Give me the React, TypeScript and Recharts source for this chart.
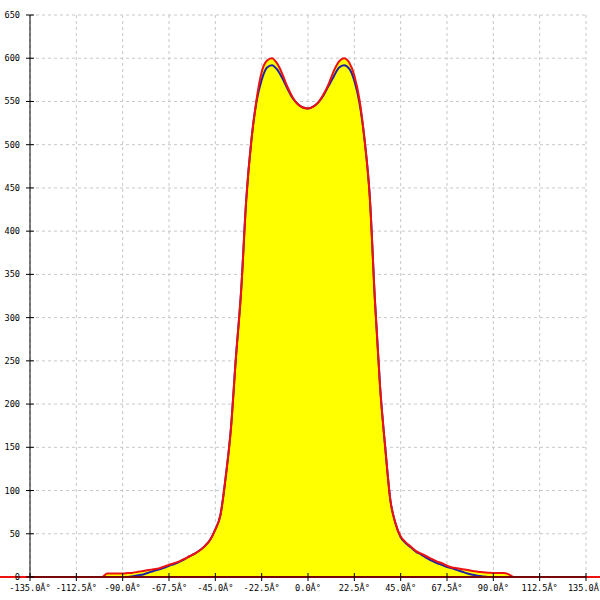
import React from 'react';
import { ComposedChart, Area, Line, XAxis, YAxis, CartesianGrid, ReferenceLine } from 'recharts';

const angles = [
  -135, -132.5, -130, -127.5, -125, -122.5, -120, -117.5, -115, -112.5, -110, -107.5, -105, -102.5, -100,
  -97.5, -95, -92.5, -90, -87.5, -85, -82.5, -80, -77.5, -75, -72.5, -70, -67.5, -65, -62.5, -60,
  -57.5, -55, -52.5, -50, -47.5, -45, -42.5, -40, -37.5, -35, -32.5, -30, -27.5, -25, -22.5, -20,
  -17.5, -15, -12.5, -10, -7.5, -5, -2.5, 0, 2.5, 5, 7.5, 10, 12.5, 15, 17.5, 20,
  22.5, 25, 27.5, 30, 32.5, 35, 37.5, 40, 42.5, 45, 47.5, 50, 52.5, 55, 57.5, 60,
  62.5, 65, 67.5, 70, 72.5, 75, 77.5, 80, 82.5, 85, 87.5, 90, 92.5, 95, 97.5, 100,
  102.5, 105, 107.5, 110, 112.5, 115, 117.5, 120, 122.5, 125, 127.5, 130, 132.5, 135,
];

const redValues = [
  0, 0, 0, 0, 0, 0, 0, 0, 0, 0, 0, 0, 0, 0, 0,
  4, 4, 4, 4, 4.5, 5, 6, 7, 8, 9, 10, 12, 14, 16, 18, 21,
  24, 27, 31, 36, 43, 55, 72, 115, 170, 254, 330, 436, 505, 552, 584, 597,
  600, 594, 582, 567, 555, 547, 543, 542, 544, 549, 558, 570, 585, 596, 600, 595,
  580, 552, 505, 440, 320, 220, 150, 89, 62, 47, 40, 35, 30, 27, 24, 21,
  18, 16, 13, 11, 10, 9, 8, 7, 6, 5.5, 5, 4.5, 4.5, 4.5, 3, 0,
  0, 0, 0, 0, 0, 0, 0, 0, 0, 0, 0, 0, 0, 0,
];

const blueValues = [
  0, 0, 0, 0, 0, 0, 0, 0, 0, 0, 0, 0, 0, 0, 0,
  0, 0, 0, 0, 0, 1, 2, 3, 5, 7, 8.5, 10.5, 13, 15, 17.5, 20.5,
  24, 27, 31, 36, 43, 55, 72, 115, 170, 254, 330, 436, 505, 550, 575, 589,
  592, 587, 577, 565, 554, 547, 543, 542, 544, 549, 557, 568, 579, 589, 592, 588,
  574, 548, 505, 440, 320, 220, 150, 89, 62, 46, 39, 34, 29, 26, 22, 19,
  16, 14, 11.5, 10, 8, 6, 4, 2.5, 1.5, 0.5, 0, 0, 0, 0, 0, 0,
  0, 0, 0, 0, 0, 0, 0, 0, 0, 0, 0, 0, 0, 0,
];

const xTicks = [-135, -112.5, -90, -67.5, -45, -22.5, 0, 22.5, 45, 67.5, 90, 112.5, 135];
const xTickLabels = ['-135.0Â°', '-112.5Â°', '-90.0Â°', '-67.5Â°', '-45.0Â°', '-22.5Â°', '0.0Â°', '22.5Â°', '45.0Â°', '67.5Â°', '90.0Â°', '112.5Â°', '135.0Â°'];
const yTicks = [0, 50, 100, 150, 200, 250, 300, 350, 400, 450, 500, 550, 600, 650];

const data = angles.map((deg, i) => ({ deg, red: redValues[i], blue: blueValues[i] }));

const FONT = '"DejaVu Sans Mono", monospace';

const XTick = (props: any) => {
  const { x, y, payload } = props;
  const idx = xTicks.indexOf(payload.value);
  return (
    <g>
      <line x1={x} x2={x} y1={y - 4} y2={y + 4} stroke="#000" strokeWidth={1} />
      <text x={x} y={y + 14} textAnchor="middle" fontFamily={FONT} fontSize={8.6} fill="#000">
        {idx >= 0 ? xTickLabels[idx] : ''}
      </text>
    </g>
  );
};

const YTick = (props: any) => {
  const { x, y, payload } = props;
  return (
    <g>
      <line x1={x - 4} x2={x + 4} y1={y} y2={y} stroke="#000" strokeWidth={1} />
      <text x={x - 10} y={y + 3} textAnchor="end" fontFamily={FONT} fontSize={8.6} fill="#000">
        {String(payload.value)}
      </text>
    </g>
  );
};

export default function App() {
  return (
    <div style={{ position: 'absolute', left: 0, top: 0, width: 600, height: 600, background: '#fff' }}>
      <ComposedChart width={600} height={600} data={data} margin={{ top: 15, right: 14, bottom: 0, left: 0 }}>
        <CartesianGrid stroke="#c8c8c8" strokeDasharray="3 3" />
        <XAxis
          dataKey="deg"
          type="number"
          domain={[-135, 135]}
          ticks={xTicks}
          interval={0}
          tickSize={0}
          tickMargin={0}
          tickLine={false}
          tick={<XTick />}
          axisLine={{ stroke: '#000' }}
          height={23}
        />
        <YAxis
          type="number"
          domain={[0, 650]}
          ticks={yTicks}
          interval={0}
          tickSize={0}
          tickMargin={0}
          tickLine={false}
          tick={<YTick />}
          axisLine={{ stroke: '#000' }}
          width={30}
        />
        <Area dataKey="red" type="monotone" stroke="none" fill="#ffff00" fillOpacity={1} isAnimationActive={false} />
        <Line dataKey="blue" type="monotone" stroke="#2020a8" strokeWidth={2} dot={false} isAnimationActive={false} />
        <Line dataKey="red" type="monotone" stroke="#ee1111" strokeWidth={2} dot={false} isAnimationActive={false} />
        <ReferenceLine
          segment={[{ x: -150, y: 0 }, { x: 142, y: 0 }]}
          ifOverflow="visible"
          stroke="#ee1111"
          strokeWidth={2}
        />
      </ComposedChart>
    </div>
  );
}
